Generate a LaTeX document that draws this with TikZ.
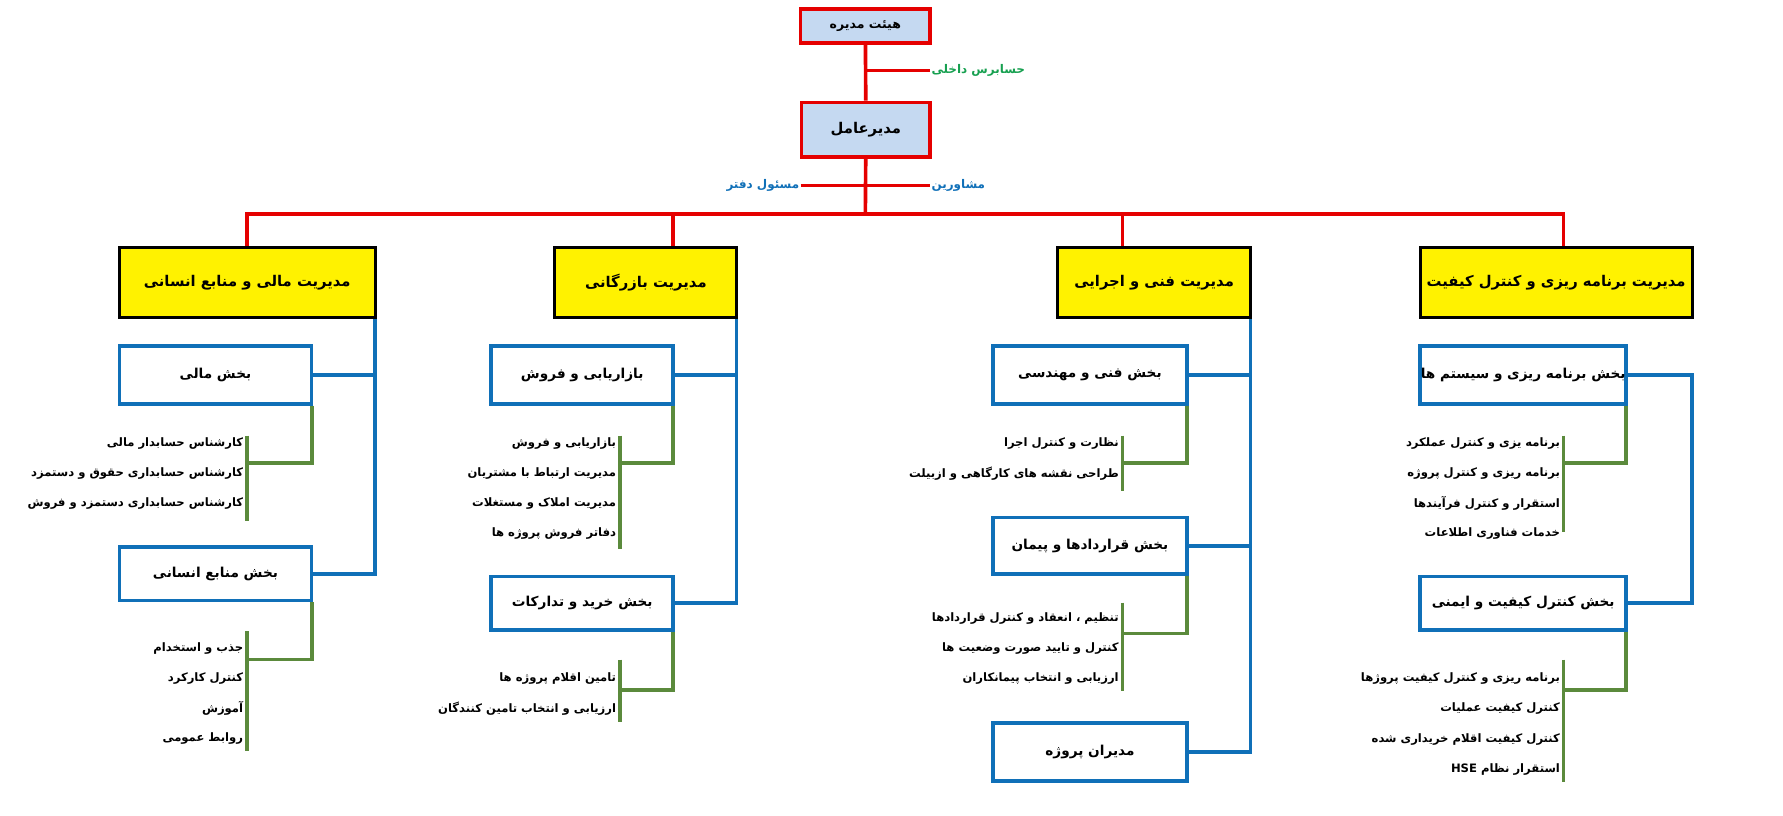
\documentclass[tikz,border=0pt]{standalone}
\usepackage{fontspec}
\TeXXeTstate=1
\newfontfamily\fa[Script=Arabic]{DejaVu Sans}
\begin{document}
\begin{tikzpicture}[x=1pt,y=-1pt,
  rl/.style={draw=red!90!black,line width=3.2pt},
  bl/.style={draw=blue1,line width=3.2pt},
  gl/.style={draw=green1,line width=3.2pt},
  topbox/.style={draw=red!90!black,line width=3.2pt,fill=lblue,inner sep=0pt,font=\fa\bfseries\fontsize{11}{13}\selectfont},
  ybox/.style={draw=black,line width=2.6pt,fill=yellow,inner sep=0pt,font=\fa\bfseries\fontsize{13}{15}\selectfont},
  subbox/.style={draw=blue1,line width=3.2pt,fill=white,inner sep=0pt,font=\fa\bfseries\fontsize{12}{15}\selectfont},
  item/.style={anchor=east,inner sep=1pt,font=\fa\bfseries\fontsize{10.2}{12}\selectfont},
  lab/.style={inner sep=1pt,font=\fa\bfseries\fontsize{10.5}{12}\selectfont}]
\definecolor{lblue}{HTML}{C5D9F1}
\definecolor{blue1}{HTML}{1070B8}
\definecolor{green1}{HTML}{5B8A3C}
\definecolor{green2}{HTML}{17A050}
\useasboundingbox (0,0) rectangle (1568,717);
% top
\node[topbox,minimum width=114pt,minimum height=30pt] (board) at (761,23) {\beginR هیئت مدیره\endR};
\node[topbox,minimum width=113pt,minimum height=48pt,font=\fa\bfseries\fontsize{13}{15}\selectfont] (ceo) at (761.5,114) {\beginR مدیرعامل\endR};
\coordinate (j1) at (761,62);
\coordinate (j1r) at (818,62);
\node[lab,text=green2,anchor=west] (aud) at (j1r) {\beginR حسابرس داخلی\endR};
\draw[rl] (board) -- (ceo);
\draw[rl] (j1) -- (j1r);
\coordinate (j2) at (761,163);
\coordinate (j2l) at (704,163);
\coordinate (j2r) at (818,163);
\coordinate (hb) at (761,188);
\node[lab,text=blue1,anchor=east] (off) at (j2l) {\beginR مسئول دفتر\endR};
\node[lab,text=blue1,anchor=west] (adv) at (j2r) {\beginR مشاورین\endR};
\draw[rl] (ceo) -- (hb);
\draw[rl] (j2l) -- (j2r);
% yellow boxes
\node[ybox,minimum width=225pt,minimum height=62pt] (A) at (217.5,248.5) {\beginR مدیریت مالی و منابع انسانی\endR};
\node[ybox,minimum width=160pt,minimum height=62pt] (B) at (568,248.5) {\beginR مدیریت بازرگانی\endR};
\node[ybox,minimum width=170pt,minimum height=62pt] (C) at (1015,248.5) {\beginR مدیریت فنی و اجرایی\endR};
\node[ybox,minimum width=239pt,minimum height=62pt] (D) at (1368.5,248.5) {\beginR مدیریت برنامه ریزی و کنترل کیفیت\endR};
\draw[rl] (A.north -| 217,0) |- (hb) -| (D.north -| 1375,0);
\draw[rl] (B.north -| 592,0) -- (592,188);
\draw[rl] (C.north -| 987,0) -- (987,188);
% sub boxes
\node[subbox,minimum width=169pt,minimum height=51pt] (A1) at (189.5,329.5) {\beginR بخش مالی\endR};
\node[subbox,minimum width=169pt,minimum height=47pt] (A2) at (189.5,504.5) {\beginR بخش منابع انسانی\endR};
\node[subbox,minimum width=160pt,minimum height=51pt] (B1) at (512,329.5) {\beginR بازاریابی و فروش\endR};
\node[subbox,minimum width=160pt,minimum height=47pt] (B2) at (512,530.5) {\beginR بخش خرید و تدارکات\endR};
\node[subbox,minimum width=171pt,minimum height=51pt] (C1) at (958.5,329.5) {\beginR بخش فنی و مهندسی\endR};
\node[subbox,minimum width=171pt,minimum height=50pt] (C2) at (958.5,480) {\beginR بخش قراردادها و پیمان\endR};
\node[subbox,minimum width=171pt,minimum height=51pt] (C3) at (958.5,661.5) {\beginR مدیران پروژه\endR};
\node[subbox,minimum width=181pt,minimum height=51pt] (D1) at (1339.5,329.5) {\beginR بخش برنامه ریزی و سیستم ها\endR};
\node[subbox,minimum width=181pt,minimum height=47pt] (D2) at (1339.5,530.5) {\beginR بخش کنترل کیفیت و ایمنی\endR};
% blue connectors
\draw[bl] (A.south east) ++(-1.5,0) coordinate (a0) -- (a0 |- A2.east) -- (A2.east);
\draw[bl] (A1.east) -- (A1.east -| a0);
\draw[bl] (B.south east) ++(-1.5,0) coordinate (b0) -- (b0 |- B2.east) -- (B2.east);
\draw[bl] (B1.east) -- (B1.east -| b0);
\draw[bl] (C.south east) ++(-1.5,0) coordinate (c0) -- (c0 |- C3.east) -- (C3.east);
\draw[bl] (C1.east) -- (C1.east -| c0);
\draw[bl] (C2.east) -- (C2.east -| c0);
\draw[bl] (D1.east) -- (1488,329.5) -- (1488,530.5) -- (D2.east);
% items
\newcommand\items[4]{% x, y-first, name, list
  \foreach \t [count=\i] in {#4} {
    \node[item] (#3\i) at (#1-2,#2+26.5*\i-26.5) {\beginR\t\endR};
  }}
\items{217}{390}{ai}{کارشناس حسابدار مالی,کارشناس حسابداری حقوق و دستمزد,کارشناس حسابداری دستمزد و فروش}
\items{217}{570}{aj}{جذب و استخدام,کنترل کارکرد,آموزش,روابط عمومی}
\items{545}{390}{bi}{بازاریابی و فروش,مدیریت ارتباط با مشتریان,مدیریت املاک و مستغلات,دفاتر فروش پروژه ها}
\items{545}{597}{bj}{تامین اقلام پروژه ها,ارزیابی و انتخاب تامین کنندگان}
\items{987}{390}{ci}{نظارت و کنترل اجرا,طراحی نقشه های کارگاهی و ازبیلت}
\items{987}{544}{cj}{تنظیم ، انعقاد و کنترل قراردادها,کنترل و تایید صورت وضعیت ها,ارزیابی و انتخاب پیمانکاران}
\items{1375}{390}{di}{برنامه یزی و کنترل عملکرد,برنامه ریزی و کنترل پروژه,استقرار و کنترل فرآیندها,خدمات فناوری اطلاعات}
\items{1375}{597}{dj}{برنامه ریزی و کنترل کیفیت پروژها,کنترل کیفیت عملیات,کنترل کیفیت اقلام خریداری شده}
\node[item] (dj4) at (1373,677) {\beginR استقرار نظام \beginL HSE\endL\endR};
% green connectors
\draw[gl] (A1.south east) ++(-1.5,0) |- (217,407); \draw[gl] (217,383) -- (217,458);
\draw[gl] (A2.south east) ++(-1.5,0) |- (217,580); \draw[gl] (217,555) -- (217,660);
\draw[gl] (B1.south east) ++(-1.5,0) |- (545,407); \draw[gl] (545,383) -- (545,483);
\draw[gl] (B2.south east) ++(-1.5,0) |- (545,607); \draw[gl] (545,580) -- (545,635);
\draw[gl] (C1.south east) ++(-1.5,0) |- (987,407); \draw[gl] (987,383) -- (987,432);
\draw[gl] (C2.south east) ++(-1.5,0) |- (987,557); \draw[gl] (987,530) -- (987,608);
\draw[gl] (D1.south east) ++(-1.5,0) |- (1375,407); \draw[gl] (1375,383) -- (1375,468);
\draw[gl] (D2.south east) ++(-1.5,0) |- (1375,607); \draw[gl] (1375,580) -- (1375,688);
\end{tikzpicture}
\end{document}
